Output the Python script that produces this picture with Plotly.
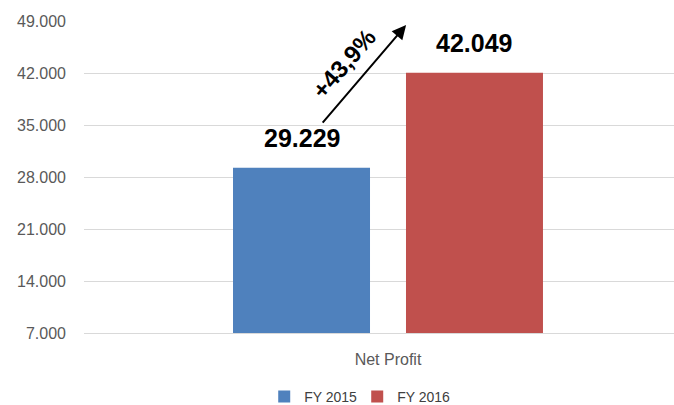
import plotly.graph_objects as go

categories = ["Net Profit"]
series_names = ["FY 2015", "FY 2016"]
values_2015 = [29229]
values_2016 = [42049]
growth_label = "+43,9%"
y_ticks = [7000, 14000, 21000, 28000, 35000, 42000, 49000]
y_tick_labels = ["7.000", "14.000", "21.000", "28.000", "35.000", "42.000", "49.000"]

colors = ["#4F81BD", "#C0504D"]
FONT = "Liberation Sans"

bargap = 0.431
bargroupgap = 0.208
slot = (1 - bargap) / 2
offsets = [-slot / 2, slot / 2]

fig = go.Figure()
for name, vals, col, off in zip(series_names, [values_2015, values_2016], colors, offsets):
    fig.add_trace(go.Bar(
        x=categories, y=vals, name=name, marker=dict(color=col, line=dict(width=0)),
    ))
    for i, v in enumerate(vals):
        fig.add_annotation(
            x=i + off, y=v, xref="x", yref="y", yanchor="bottom", yshift=14,
            text="<b>" + f"{v:,}".replace(",", ".") + "</b>", showarrow=False,
            font=dict(family=FONT, size=25, color="#000000"),
        )

x_left = offsets[0]
# arrow from above first bar label to beside second bar label
y0 = values_2015[0] + (values_2016[0] - values_2015[0]) * 0.5
y1 = values_2016[0] + 6400
fig.add_annotation(
    x=x_left + 0.172, y=y1, xref="x", yref="y",
    ax=x_left + 0.034, ay=y0 - 400, axref="x", ayref="y",
    showarrow=True, arrowhead=2, arrowsize=1.4, arrowwidth=2, arrowcolor="#000000",
    text=" ", font=dict(size=1), borderpad=0, standoff=0, startstandoff=0,
)
fig.add_annotation(
    x=x_left + 0.07, y=values_2016[0] + 1200, xref="x", yref="y",
    text=f"<b>{growth_label}</b>", showarrow=False, textangle=-49,
    font=dict(family=FONT, size=24, color="#000000"),
)

fig.update_layout(
    width=674, height=405,
    margin=dict(l=84, r=0, t=21, b=72, autoexpand=False),
    paper_bgcolor="white", plot_bgcolor="white",
    barmode="group", bargap=bargap, bargroupgap=bargroupgap,
    font=dict(family=FONT, color="#595959", size=14),
    showlegend=True,
    legend=dict(orientation="h", xref="container", yref="container",
                x=0.53, xanchor="center", y=0.02, yanchor="middle",
                entrywidth=48, itemwidth=30,
                font=dict(family=FONT, size=14, color="#404040")),
    xaxis=dict(type="category", range=[-0.5, 0.4704], showgrid=False, showline=True,
               linecolor="#D9D9D9", linewidth=1, ticks="", ticklabelstandoff=12,
               tickfont=dict(family=FONT, size=16, color="#595959")),
    yaxis=dict(range=[7000, 49000], tickvals=y_ticks, ticktext=y_tick_labels,
               showgrid=True, gridcolor="#D9D9D9", gridwidth=1, zeroline=False,
               showline=False, ticks="", ticklabelstandoff=17,
               tickfont=dict(family=FONT, size=16, color="#595959")),
)

fig.write_html("out.html", config={"displayModeBar": False},
               post_script="document.body.style.margin='0px';")
